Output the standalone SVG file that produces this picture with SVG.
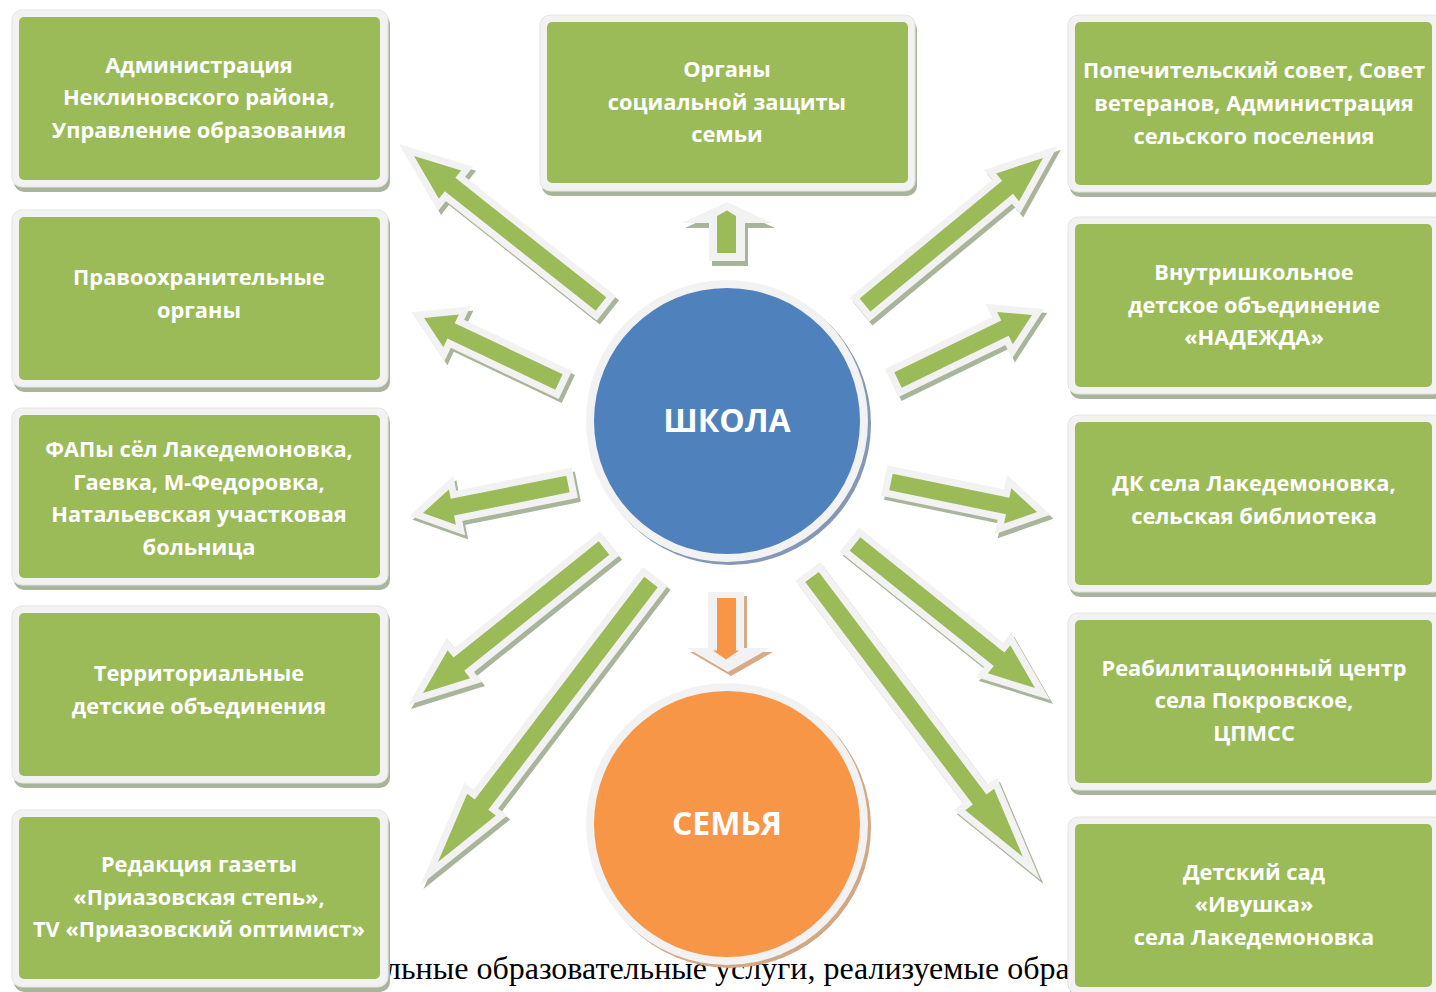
<svg xmlns="http://www.w3.org/2000/svg" xmlns:xlink="http://www.w3.org/1999/xlink" width="1436" height="992" viewBox="0 0 1436 992">
<style>
.bs{fill:#a9b59b}
.bo{fill:#f2f2f2;stroke:#e4e4e4;stroke-width:1}
.bg{fill:#9bbb59}
.t{font-family:"Open Sans","Noto Sans",sans-serif;font-weight:700;font-size:21.8px;fill:#ffffff;text-anchor:middle}
.ct{font-family:"Open Sans","Noto Sans",sans-serif;font-weight:700;font-size:32px;fill:#ffffff;text-anchor:middle}
.ash{fill:#a9b59b;stroke:#a9b59b;stroke-width:14;stroke-linejoin:miter;stroke-miterlimit:10}
.arr{fill:#9bbb59;stroke:#f2f2f2;stroke-width:14;stroke-linejoin:miter;stroke-miterlimit:10;paint-order:stroke}
.cap{font-family:"Liberation Serif","Times New Roman",serif;font-size:32px;fill:#000000}
</style>
<defs>
<path id="a1" transform="translate(601,304) rotate(218.36)" d="M0,-8.5 H192.5 V-18 L238.5,0 L192.5,18 V8.5 H0 Z"/>
<path id="a2" transform="translate(559,382) rotate(205.36)" d="M0,-8.5 H119.4 V-18 L149.4,0 L119.4,18 V8.5 H0 Z"/>
<path id="a3" transform="translate(568,484) rotate(168.69)" d="M0,-8.5 H117.9 V-18 L147.9,0 L117.9,18 V8.5 H0 Z"/>
<path id="a4" transform="translate(604,548) rotate(141.3)" d="M0,-8.5 H185.9 V-18 L231.9,0 L185.9,18 V8.5 H0 Z"/>
<path id="a5" transform="translate(651,582) rotate(127.27)" d="M0,-8.5 H279.8 V-18 L351.8,0 L279.8,18 V8.5 H0 Z"/>
<path id="a7" transform="translate(812,577) rotate(53)" d="M0,-8.5 H278.6 V-18 L350.6,0 L278.6,18 V8.5 H0 Z"/>
<path id="a8" transform="translate(855,544) rotate(38.66)" d="M0,-8.5 H184.5 V-18 L230.5,0 L184.5,18 V8.5 H0 Z"/>
<path id="a9" transform="translate(891,482) rotate(11.61)" d="M0,-8.5 H119.1 V-18 L149.1,0 L119.1,18 V8.5 H0 Z"/>
<path id="a10" transform="translate(898,380) rotate(-25.88)" d="M0,-8.5 H118.9 V-18 L148.9,0 L118.9,18 V8.5 H0 Z"/>
<path id="a11" transform="translate(865,305) rotate(-39.55)" d="M0,-8.5 H184.9 V-18 L230.9,0 L184.9,18 V8.5 H0 Z"/>
</defs>
<rect width="1436" height="992" fill="#ffffff"/>
<text class="cap" x="385" y="979">льные образовательные услуги, реализуемые обра</text>

<g id="connectors">
<g transform="translate(3,4)">
<use xlink:href="#a1" class="ash"/><use xlink:href="#a2" class="ash"/><use xlink:href="#a3" class="ash"/><use xlink:href="#a4" class="ash"/><use xlink:href="#a5" class="ash"/><use xlink:href="#a7" class="ash"/><use xlink:href="#a8" class="ash"/><use xlink:href="#a9" class="ash"/><use xlink:href="#a10" class="ash"/><use xlink:href="#a11" class="ash"/>
</g>
<use xlink:href="#a1" class="arr"/><use xlink:href="#a2" class="arr"/><use xlink:href="#a3" class="arr"/><use xlink:href="#a4" class="arr"/><use xlink:href="#a5" class="arr"/><use xlink:href="#a7" class="arr"/><use xlink:href="#a8" class="arr"/><use xlink:href="#a9" class="arr"/><use xlink:href="#a10" class="arr"/><use xlink:href="#a11" class="arr"/>
<path d="M730,207 L775,228 L748,228 L748,266 L712,266 L712,228 L685,228 Z" fill="#a9b59b"/>
<path d="M727,202 L772,223 L745,223 L745,261 L709,261 L709,223 L682,223 Z" fill="#f2f2f2"/>
<path d="M717,216 L727,210.5 L736,216 L736,253 L717,253 Z" fill="#9bbb59"/>
<path d="M711,596 L747,596 L747,652 L773,652 L731,676 L690,652 L711,652 Z" fill="#d6ab86"/>
<path d="M708,592 L744,592 L744,648 L770,648 L728,672 L687,648 L708,648 Z" fill="#f2f2f2"/>
<path d="M717,598 L736,598 L736,650.5 L739,650.5 L726,659.5 L713,650.5 L717,650.5 Z" fill="#f79646"/>
</g>

<g id="n-school">
<circle cx="730" cy="424" r="141" fill="#8397b6"/>
<circle cx="727" cy="421" r="141" fill="#f2f2f2"/>
<circle cx="727" cy="421" r="133" fill="#4f81bd"/>
<text class="ct" x="727" y="432">ШКОЛА</text>
</g>
<g id="n-family">
<circle cx="730" cy="827" r="141" fill="#d2a783"/>
<circle cx="727" cy="824" r="141" fill="#f2f2f2"/>
<circle cx="727" cy="824" r="133" fill="#f79646"/>
<text class="ct" x="727" y="835">СЕМЬЯ</text>
</g>

<g id="n-social">
<rect class="bs" x="542" y="19" width="375" height="177" rx="10"/>
<rect class="bo" x="540" y="15" width="375" height="176" rx="10"/>
<rect class="bg" x="547" y="22" width="361" height="161" rx="5"/>
<text class="t" x="727" y="77">Органы</text>
<text class="t" x="727" y="110">социальной защиты</text>
<text class="t" x="727" y="142">семьи</text>
</g>

<g id="n-admin">
<rect class="bs" x="14" y="14" width="376" height="178" rx="10"/>
<rect class="bo" x="12" y="10" width="376" height="177" rx="10"/>
<rect class="bg" x="19" y="17" width="361" height="163" rx="5"/>
<text class="t" x="199" y="73">Администрация</text>
<text class="t" x="199" y="105">Неклиновского района,</text>
<text class="t" x="199" y="138">Управление образования</text>
</g>
<g id="n-police">
<rect class="bs" x="14" y="214" width="376" height="178" rx="10"/>
<rect class="bo" x="12" y="210" width="376" height="177" rx="10"/>
<rect class="bg" x="19" y="217" width="361" height="163" rx="5"/>
<text class="t" x="199" y="285">Правоохранительные</text>
<text class="t" x="199" y="318">органы</text>
</g>
<g id="n-fap">
<rect class="bs" x="14" y="412" width="376" height="178" rx="10"/>
<rect class="bo" x="12" y="408" width="376" height="177" rx="10"/>
<rect class="bg" x="19" y="415" width="361" height="163" rx="5"/>
<text class="t" x="199" y="457">ФАПы сёл Лакедемоновка,</text>
<text class="t" x="199" y="490">Гаевка, М-Федоровка,</text>
<text class="t" x="199" y="522">Натальевская участковая</text>
<text class="t" x="199" y="555">больница</text>
</g>
<g id="n-terr">
<rect class="bs" x="14" y="610" width="376" height="178" rx="10"/>
<rect class="bo" x="12" y="606" width="376" height="177" rx="10"/>
<rect class="bg" x="19" y="613" width="361" height="163" rx="5"/>
<text class="t" x="199" y="681">Территориальные</text>
<text class="t" x="199" y="714">детские объединения</text>
</g>
<g id="n-press">
<rect class="bs" x="14" y="814" width="376" height="178" rx="10"/>
<rect class="bo" x="12" y="810" width="376" height="177" rx="10"/>
<rect class="bg" x="19" y="817" width="361" height="162" rx="5"/>
<text class="t" x="199" y="872">Редакция газеты</text>
<text class="t" x="199" y="905">«Приазовская степь»,</text>
<text class="t" x="199" y="937">TV «Приазовский оптимист»</text>
</g>

<g id="n-council">
<rect class="bs" x="1070" y="19" width="376" height="178" rx="10"/>
<rect class="bo" x="1068" y="15" width="376" height="177" rx="10"/>
<rect class="bg" x="1075" y="22" width="357" height="163" rx="5"/>
<text class="t" x="1254" y="78">Попечительский совет, Совет</text>
<text class="t" x="1254" y="111">ветеранов, Администрация</text>
<text class="t" x="1254" y="144">сельского поселения</text>
</g>
<g id="n-nadezhda">
<rect class="bs" x="1070" y="221" width="376" height="178" rx="10"/>
<rect class="bo" x="1068" y="217" width="376" height="177" rx="10"/>
<rect class="bg" x="1075" y="224" width="357" height="163" rx="5"/>
<text class="t" x="1254" y="280">Внутришкольное</text>
<text class="t" x="1254" y="313">детское объединение</text>
<text class="t" x="1254" y="345">«НАДЕЖДА»</text>
</g>
<g id="n-dk">
<rect class="bs" x="1070" y="419" width="376" height="178" rx="10"/>
<rect class="bo" x="1068" y="415" width="376" height="177" rx="10"/>
<rect class="bg" x="1075" y="422" width="357" height="163" rx="5"/>
<text class="t" x="1254" y="491">ДК села Лакедемоновка,</text>
<text class="t" x="1254" y="524">сельская библиотека</text>
</g>
<g id="n-rehab">
<rect class="bs" x="1070" y="617" width="376" height="178" rx="10"/>
<rect class="bo" x="1068" y="613" width="376" height="177" rx="10"/>
<rect class="bg" x="1075" y="620" width="357" height="163" rx="5"/>
<text class="t" x="1254" y="676">Реабилитационный центр</text>
<text class="t" x="1254" y="708">села Покровское,</text>
<text class="t" x="1254" y="741">ЦПМСС</text>
</g>
<g id="n-kinder">
<rect class="bs" x="1070" y="821" width="376" height="178" rx="10"/>
<rect class="bo" x="1068" y="817" width="376" height="177" rx="10"/>
<rect class="bg" x="1075" y="824" width="357" height="163" rx="5"/>
<text class="t" x="1254" y="880">Детский сад</text>
<text class="t" x="1254" y="912">«Ивушка»</text>
<text class="t" x="1254" y="945">села Лакедемоновка</text>
</g>
</svg>
